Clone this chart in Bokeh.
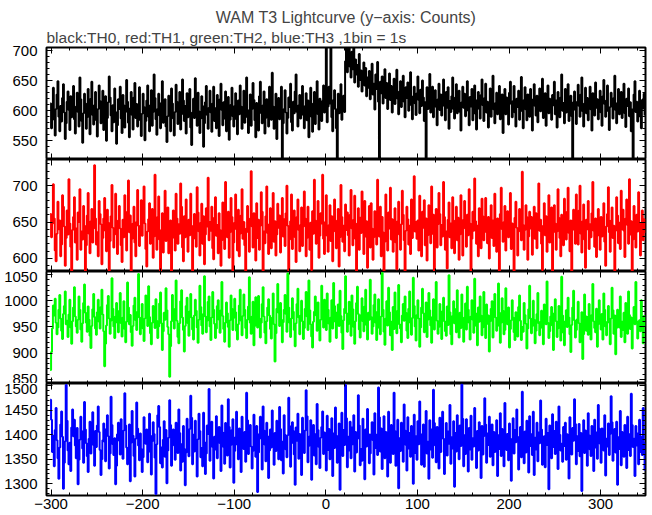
from bokeh.plotting import figure
from bokeh.layouts import column
from bokeh.models import LinearAxis, Range1d, FixedTicker, Title
from bokeh.embed import file_html
from bokeh.resources import INLINE

T_START = -301  # first 1-s bin

title_text = "WAM T3 Lightcurve (y\u2212axis: Counts)"
subtitle_text = "black:TH0, red:TH1, green:TH2, blue:TH3 ,1bin = 1s"

x_major = [-300, -200, -100, 0, 100, 200, 300]
x_minor = list(range(-300, 350, 20))
x_labels = {-300: "\u2212300", -200: "\u2212200", -100: "\u2212100"}

th0 = [
612, 571, 596, 638, 585, 559, 603, 627, 649, 590, 566, 608, 582, 621, 644, 597, 553, 579, 615, 632, 601, 568, 624, 589, 610,
641, 586, 562, 607, 630, 598, 574, 655, 619, 583, 547, 596, 628, 612, 570, 589, 636, 605, 561, 620, 648, 593, 577, 609, 631,
584, 557, 603, 642, 616, 579, 595, 633, 568, 601, 624, 550, 588, 614, 657, 622, 592, 566, 609, 581, 637, 598, 545, 576, 619,
603, 640, 587, 563, 626, 609, 572, 598, 651, 615, 580, 556, 604, 631, 593, 569, 622, 646, 588, 611, 574, 600, 639, 584, 558,
595, 628, 606, 551, 583, 617, 642, 590, 566, 609, 634, 575, 598, 660, 621, 586, 560, 603, 628, 592, 571, 613, 649, 580, 602,
619, 574, 548, 591, 625, 603, 566, 637, 612, 587, 559, 598, 643, 615, 578, 606, 631, 569, 594, 652, 617, 583, 608, 562, 629,
589, 611, 636, 572, 543, 597, 620, 588, 654, 606, 575, 630, 599, 563, 587, 624, 608, 540, 579, 614, 641, 593, 570, 605, 633,
597, 565, 612, 640, 583, 604, 571, 626, 593, 558, 619, 645, 601, 576, 614, 587, 632, 566, 599, 623, 552, 585, 610, 638, 591,
574, 608, 629, 586, 561, 617, 594, 642, 607, 570, 596, 633, 580, 612, 655, 589, 563, 601, 627, 575, 603, 646, 618, 584, 556,
613, 590, 567, 624, 648, 596, 579, 609, 632, 562, 588, 619, 601, 574, 640, 611, 585, 663, 607, 570, 594, 628, 553, 599, 621,
586, 612, 640, 515, 579, 603, 634, 597, 562, 588, 622, 606, 645, 581, 567, 615, 596, 632, 660, 598, 574, 609, 626, 587, 613,
641, 593, 571, 608, 629, 584, 617, 556, 600, 638, 590, 565, 612, 631, 578, 603, 649, 594, 569, 620, 605, 583, 616, 642, 597,
622, 705, 581, 607, 640, 612, 710, 589, 566, 618, 634, 603, 571, 520, 628, 596, 612, 644, 585, 607, 625, 598,
682, 706, 664, 691, 712, 673, 655, 698, 669, 708, 647, 685, 660, 676, 640, 694, 651, 667, 632, 659, 680, 642, 671, 624, 655,
638, 666, 619, 652, 678, 627, 645, 602, 660, 636, 681, 615, 522, 648, 629, 657, 612, 640, 669, 621, 646, 603, 633, 662, 618,
641, 597, 625, 653, 611, 637, 668, 620, 594, 632, 649, 606, 627, 658, 615, 589, 639, 621, 647, 600, 631, 664, 609, 586, 624,
640, 612, 593, 629, 657, 618, 596, 635, 608, 650, 622, 583, 614, 522, 639, 603, 628, 661, 597, 617, 640, 589, 611, 634, 606,
576, 619, 645, 601, 627, 592, 613, 652, 608, 584, 631, 605, 639, 570, 616, 598, 624, 655, 603, 587, 622, 644, 596, 611, 633,
598, 567, 614, 640, 605, 628, 591, 617, 649, 600, 576, 623, 607, 636, 584, 611, 642, 595, 569, 618, 631, 603, 587, 626, 652,
609, 583, 621, 645, 597, 615, 572, 606, 637, 590, 624, 658, 602, 579, 613, 630, 594, 619, 641, 586, 605, 627, 563, 610, 636,
594, 622, 603, 577, 630, 648, 611, 589, 616, 641, 597, 574, 620, 606, 633, 585, 612, 656, 599, 571, 618, 639, 602, 584, 627,
613, 590, 636, 602, 567, 619, 644, 608, 592, 625, 581, 610, 637, 599, 616, 653, 588, 604, 629, 575, 611, 642, 596, 620, 603,
585, 626, 609, 648, 594, 617, 572, 631, 605, 589, 622, 660, 600, 613, 579, 636, 597, 618, 644, 583, 607, 625, 591, 518, 614,
632, 601, 578, 615, 643, 608, 590, 627, 655, 599, 574, 612, 638, 596, 621, 584, 609, 640, 602, 567, 629, 613, 592, 647, 605,
619, 586, 608, 633, 597, 575, 624, 651, 611, 590, 617, 642, 599, 568, 606, 630, 615, 587, 621, 658, 601, 579, 613, 636, 594,
607, 631, 588, 612, 645, 596, 573, 620, 608, 637, 591, 614, 566, 602, 520, 627, 649, 598, 615, 582, 609, 633, 590, 571, 618, 604, 628, 592,
]

th1 = [
661, 629, 648, 702, 655, 611, 596, 634, 678, 640, 652, 603, 619, 687, 671, 644, 590, 628, 666, 633, 709, 648, 616, 575, 639,
657, 684, 622, 641, 598, 663, 650, 695, 612, 637, 626, 672, 645, 583, 618, 659, 690, 634, 607, 651, 668, 622, 641, 728, 655,
619, 636, 603, 679, 661, 647, 592, 628, 655, 683, 638, 610, 667, 649, 575, 624, 658, 701, 642, 615, 633, 689, 652, 606, 645,
672, 641, 618, 595, 653, 629, 687, 664, 611, 640, 707, 636, 659, 582, 627, 648, 671, 622, 603, 650, 694, 645, 617, 634, 680,
631, 660, 699, 648, 613, 589, 637, 654, 676, 620, 643, 668, 601, 630, 715, 649, 612, 657, 685, 626, 574, 639, 662, 608, 651,
693, 624, 645, 670, 607, 638, 652, 581, 628, 666, 642, 611, 689, 655, 620, 647, 634, 703, 671, 615, 596, 658, 629, 681, 640,
609, 653, 632, 689, 645, 572, 627, 661, 640, 616, 698, 663, 637, 604, 649, 675, 620, 658, 592, 633, 669, 644, 711, 625, 650,
638, 671, 614, 599, 656, 684, 631, 646, 607, 662, 639, 590, 625, 677, 652, 613, 705, 648, 629, 664, 601, 636, 683, 657, 578,
622, 649, 688, 640, 611, 667, 603, 634, 659, 695, 627, 650, 618, 583, 641, 672, 636, 609, 655, 720, 644, 615, 662, 631, 597,
676, 628, 653, 612, 645, 691, 664, 580, 637, 621, 658, 699, 635, 606, 647, 669, 614, 641, 690, 623, 651, 604, 633, 675, 642,
659, 608, 641, 683, 630, 654, 617, 662, 700, 645, 573, 626, 651, 688, 613, 640, 666, 629, 595, 657, 681, 639, 610, 646, 670,
617, 644, 692, 655, 603, 628, 671, 639, 612, 649, 584, 665, 634, 708, 652, 620, 643, 679, 601, 631, 662, 648, 715, 627, 606,
650, 687, 631, 609, 646, 673, 624, 658, 596, 637, 681, 652, 614, 640, 668, 589, 629, 701, 657, 623, 645, 610, 674, 639, 663,
632, 604, 660, 694, 641, 618, 653, 686, 627, 577, 648, 669, 612, 656, 635, 692, 645, 606, 679, 630, 651, 587, 638, 672, 615,
676, 641, 598, 629, 665, 652, 619, 708, 644, 630, 671, 603, 657, 636, 582, 623, 688, 649, 611, 663, 641, 697, 626, 654, 609,
644, 669, 622, 585, 651, 678, 633, 612, 647, 693, 660, 625, 574, 638, 671, 654, 619, 645, 606, 681, 628, 659, 713, 637, 650,
627, 652, 611, 686, 639, 603, 664, 642, 680, 618, 655, 597, 632, 673, 646, 621, 699, 634, 660, 583, 641, 668, 615, 647, 690,
661, 618, 646, 630, 705, 657, 612, 637, 586, 653, 677, 629, 648, 614, 684, 652, 607, 640, 671, 625, 656, 598, 633, 687, 642,
604, 653, 679, 641, 616, 660, 632, 695, 648, 579, 627, 664, 638, 710, 651, 620, 645, 603, 669, 636, 614, 682, 658, 625, 647,
683, 636, 621, 657, 600, 644, 673, 628, 652, 617, 689, 641, 609, 655, 632, 576, 661, 697, 640, 623, 650, 672, 611, 638, 665,
629, 662, 690, 613, 648, 633, 581, 656, 678, 642, 604, 637, 668, 651, 625, 719, 646, 612, 639, 673, 657, 598, 630, 664, 641,
657, 605, 640, 671, 627, 662, 614, 649, 703, 638, 653, 620, 584, 645, 676, 632, 658, 609, 641, 687, 622, 650, 670, 579, 636,
673, 648, 612, 637, 695, 656, 628, 603, 660, 641, 618, 682, 649, 626, 664, 697, 635, 610, 652, 574, 639, 667, 643, 620, 688,
641, 619, 666, 700, 634, 608, 651, 674, 626, 587, 653, 640, 679, 613, 647, 629, 662, 705, 638, 616, 655, 602, 631, 668, 645,
612, 657, 630, 648, 676, 623, 590, 644, 661, 698, 636, 609, 652, 670, 628, 645, 583, 638, 684, 659, 621, 649, 613, 693, 640,
667, 638, 602, 655, 681, 646, 620, 709, 633, 651, 578, 626, 672, 640, 615, 660, 637, 691, 648, 604, 643, 666, 625, 654, 635,
]

th2 = [
868, 902, 947, 991, 972, 1004, 958, 936, 949, 983, 1011, 966, 943, 927, 975, 990, 1018, 955, 962, 931, 974, 1002, 949, 918, 961,
987, 1026, 970, 951, 939, 964, 1008, 983, 945, 922, 957, 996, 1031, 977, 958, 941, 989, 964, 933, 910, 952, 984, 1013, 969, 947,
935, 978, 1002, 960, 947, 988, 1021, 974, 942, 875, 918, 953, 992, 1009, 966, 937, 962, 1043, 985, 951, 929, 970, 996, 958, 940,
981, 1015, 957, 932, 968, 999, 946, 921, 960, 1035, 987, 955, 973, 940, 914, 952, 991, 1006, 963, 944, 979, 1051, 968, 936, 957,
994, 947, 923, 966, 1010, 981, 952, 1028, 969, 938, 917, 958, 990, 973, 948, 1003, 962, 929, 951, 995, 1016, 957, 906, 942, 977,
964, 1024, 982, 950, 936, 855, 913, 961, 1011, 976, 947, 985, 1039, 962, 931, 919, 957, 999, 1020, 968, 944, 903, 952, 990, 1006,
957, 933, 980, 1013, 968, 945, 926, 972, 1002, 981, 949, 920, 964, 1029, 988, 953, 937, 975, 1047, 970, 940, 962, 998, 1008, 951,
925, 968, 1017, 983, 956, 929, 947, 990, 1001, 964, 939, 982, 1036, 971, 946, 922, 958, 997, 976, 950, 912, 963, 1010, 985, 944,
967, 1004, 978, 943, 926, 955, 991, 1021, 962, 934, 971, 1012, 983, 948, 929, 964, 989, 1045, 958, 937, 970, 998, 915, 952, 1007,
981, 949, 1009, 966, 930, 958, 994, 1026, 970, 939, 919, 961, 987, 1003, 972, 946, 928, 968, 1014, 955, 884, 938, 985, 1032, 977,
952, 996, 964, 921, 959, 983, 1011, 975, 941, 1052, 987, 958, 931, 966, 1005, 979, 944, 913, 957, 994, 1023, 968, 936, 972, 1000,
961, 927, 948, 985, 1017, 970, 944, 1039, 982, 955, 932, 911, 960, 979, 1008, 972, 943, 997, 958, 924, 964, 1029, 980, 949, 1002,
975, 944, 1014, 983, 956, 922, 968, 1001, 947, 1034, 990, 960, 929, 978, 993, 952, 1019, 971, 939, 908, 963, 985, 1047, 976, 941,
955, 998, 967, 933, 1010, 984, 950, 918, 961, 996, 1027, 975, 945, 930, 973, 1005, 961, 942, 989, 1021, 954, 926, 977, 964, 1040,
969, 937, 951, 992, 1012, 958, 925, 979, 1003, 948, 936, 970, 1053, 983, 941, 916, 966, 999, 953, 1025, 978, 934, 960, 906, 988,
946, 1016, 963, 938, 981, 1030, 955, 947, 921, 972, 994, 962, 1008, 977, 943, 929, 985, 1018, 958, 935, 967, 1044, 990, 951, 924,
973, 1001, 966, 912, 949, 987, 1023, 976, 940, 958, 997, 931, 964, 1015, 982, 953, 920, 969, 1003, 945, 982, 1036, 962, 937, 950,
994, 959, 927, 980, 1006, 961, 942, 933, 989, 954, 1049, 978, 936, 917, 971, 999, 957, 984, 940, 1020, 963, 930, 977, 948, 1012,
951, 922, 968, 995, 945, 1027, 983, 958, 926, 970, 1001, 964, 939, 1042, 976, 952, 915, 987, 960, 1008, 972, 934, 949, 1017, 981,
929, 993, 956, 972, 903, 961, 985, 999, 930, 974, 1013, 968, 943, 952, 1033, 977, 920, 958, 1005, 981, 936, 944, 1024, 970, 955,
987, 911, 946, 963, 1001, 968, 940, 925, 978, 947, 932, 988, 1010, 962, 925, 950, 941, 996, 973, 956, 909, 947, 984, 1029, 966,
938, 952, 1000, 964, 919, 943, 975, 1015, 957, 934, 960, 981, 948, 917, 993, 970, 955, 1037, 958, 929, 942, 970, 988, 953, 906,
976, 1003, 961, 931, 947, 990, 965, 924, 1046, 972, 939, 915, 961, 982, 950, 1006, 968, 936, 902, 954, 987, 1019, 963, 930, 944,
965, 998, 957, 921, 948, 978, 889, 936, 1012, 971, 943, 969, 935, 994, 957, 926, 973, 1032, 961, 948, 940, 985, 912, 955, 1001,
967, 945, 975, 926, 1014, 983, 951, 934, 960, 990, 958, 917, 966, 1025, 982, 937, 972, 898, 948, 983, 960, 949, 1008, 931, 960,
944, 977, 921, 996, 954, 937, 1018, 973, 946, 968, 909, 958, 988, 955, 1036, 961, 928, 945, 963, 942, 1001, 958, 919, 971, 950,
]

th3 = [
1472, 1431, 1365, 1398, 1336, 1410, 1455, 1389, 1352, 1310, 1374, 1421, 1448, 1396, 1290, 1343, 1387, 1502, 1429, 1368, 1340, 1384, 1326, 1415, 1452,
1397, 1431, 1378, 1352, 1414, 1299, 1349, 1390, 1437, 1408, 1372, 1343, 1467, 1411, 1383, 1356, 1324, 1392, 1427, 1362, 1401, 1446, 1379, 1337, 1408,
1375, 1419, 1458, 1406, 1369, 1318, 1350, 1389, 1423, 1386, 1346, 1412, 1440, 1397, 1331, 1362, 1478, 1420, 1381, 1359, 1393, 1299, 1337, 1401, 1425,
1388, 1360, 1432, 1396, 1351, 1409, 1485, 1419, 1374, 1340, 1363, 1421, 1305, 1384, 1449, 1398, 1357, 1315, 1392, 1466, 1413, 1378, 1348, 1403, 1371,
1324, 1354, 1436, 1393, 1382, 1411, 1344, 1365, 1443, 1398, 1319, 1387, 1426, 1402, 1353, 1279, 1381, 1440, 1459, 1416, 1342, 1374, 1333, 1390, 1428,
1355, 1410, 1301, 1368, 1394, 1471, 1420, 1337, 1378, 1411, 1386, 1349, 1425, 1396, 1363, 1452, 1404, 1327, 1381, 1345, 1418, 1371, 1297, 1364, 1433,
1389, 1356, 1412, 1480, 1435, 1340, 1400, 1366, 1429, 1384, 1315, 1391, 1443, 1408, 1354, 1373, 1336, 1445, 1385, 1320, 1362, 1419, 1402, 1494, 1347,
1388, 1427, 1375, 1311, 1396, 1370, 1438, 1352, 1389, 1416, 1383, 1326, 1460, 1405, 1375, 1341, 1424, 1390, 1358, 1473, 1416, 1333, 1379, 1410, 1432,
1302, 1367, 1395, 1447, 1380, 1350, 1413, 1387, 1324, 1437, 1399, 1371, 1406, 1345, 1486, 1430, 1361, 1399, 1420, 1376, 1331, 1367, 1441, 1393, 1355,
1418, 1283, 1364, 1402, 1437, 1392, 1329, 1458, 1409, 1380, 1346, 1425, 1397, 1312, 1368, 1411, 1374, 1450, 1388, 1339, 1404, 1367, 1429, 1395, 1350,
1457, 1412, 1348, 1386, 1321, 1440, 1400, 1370, 1354, 1399, 1476, 1418, 1335, 1383, 1426, 1408, 1360, 1298, 1415, 1388, 1443, 1351, 1402, 1372, 1318,
1435, 1391, 1363, 1409, 1491, 1438, 1344, 1377, 1397, 1430, 1308, 1384, 1420, 1358, 1401, 1340, 1463, 1410, 1375, 1332, 1394, 1416, 1448, 1361, 1405,
1382, 1327, 1439, 1369, 1412, 1350, 1387, 1434, 1316, 1403, 1373, 1456, 1398, 1343, 1365, 1423, 1288, 1390, 1445, 1357, 1410, 1379, 1502, 1434, 1334,
1396, 1368, 1427, 1352, 1415, 1381, 1440, 1325, 1406, 1364, 1392, 1481, 1419, 1338, 1371, 1347, 1433, 1385, 1309, 1411, 1376, 1453, 1402, 1342, 1362,
1401, 1426, 1389, 1319, 1444, 1373, 1400, 1359, 1497, 1436, 1366, 1413, 1330, 1389, 1438, 1352, 1406, 1378, 1315, 1447, 1383, 1343, 1420, 1395, 1361,
1486, 1408, 1337, 1374, 1431, 1291, 1393, 1367, 1425, 1387, 1345, 1462, 1409, 1379, 1327, 1436, 1372, 1404, 1355, 1418, 1384, 1300, 1441, 1363, 1397,
1349, 1428, 1381, 1468, 1402, 1339, 1376, 1421, 1335, 1398, 1449, 1362, 1386, 1310, 1430, 1370, 1411, 1353, 1492, 1424, 1378, 1344, 1416, 1389, 1331,
1435, 1365, 1400, 1447, 1392, 1320, 1374, 1424, 1358, 1407, 1382, 1461, 1341, 1395, 1372, 1428, 1294, 1404, 1366, 1440, 1383, 1350, 1419, 1377, 1503,
1433, 1336, 1399, 1361, 1432, 1387, 1325, 1414, 1370, 1439, 1349, 1393, 1376, 1455, 1401, 1332, 1408, 1368, 1426, 1385, 1312, 1418, 1360, 1397, 1475,
1421, 1343, 1403, 1379, 1437, 1355, 1390, 1421, 1338, 1406, 1365, 1384, 1430, 1316, 1399, 1371, 1444, 1357, 1412, 1381, 1336, 1465, 1402, 1369, 1402,
1348, 1423, 1375, 1306, 1392, 1434, 1362, 1410, 1385, 1452, 1396, 1329, 1373, 1416, 1354, 1488, 1380, 1342, 1407, 1364, 1429, 1391, 1323, 1438, 1377,
1401, 1359, 1447, 1318, 1394, 1370, 1425, 1346, 1405, 1383, 1470, 1411, 1339, 1366, 1397, 1334, 1433, 1379, 1404, 1289, 1419, 1386, 1352, 1442, 1375,
1408, 1361, 1427, 1393, 1330, 1458, 1400, 1368, 1382, 1345, 1416, 1377, 1425, 1349, 1401, 1372, 1311, 1436, 1384, 1360, 1414, 1388, 1473, 1422, 1340,
1397, 1367, 1422, 1356, 1404, 1285, 1391, 1430, 1363, 1409, 1378, 1337, 1444, 1399, 1370, 1357, 1418, 1386, 1326, 1431, 1374, 1405, 1351, 1461, 1413,
1382, 1343, 1413, 1396, 1368, 1440, 1317, 1392, 1376, 1423, 1359, 1402, 1479, 1426, 1347, 1389, 1412, 1364, 1427, 1298, 1395, 1371, 1449, 1338, 1406,
1380, 1355, 1420, 1387, 1332, 1437, 1369, 1401, 1357, 1484, 1420, 1375, 1392, 1316, 1418, 1378, 1403, 1340, 1431, 1365, 1396, 1359, 1455, 1384, 1327,
]

panels = [
    dict(y=th0, color="#000000", yr=(519, 705), major=[550, 600, 650, 700]),
    dict(y=th1, color="#ff0000", yr=(582, 736), major=[600, 650, 700]),
    dict(y=th2, color="#00ff00", yr=(842, 1056), major=[850, 900, 950, 1000, 1050]),
    dict(y=th3, color="#0000ff", yr=(1276, 1505), major=[1300, 1350, 1400, 1450, 1500]),
]

FONT = "Liberation Sans"
x_range = Range1d(-305, 349)


def tick_only_axes(p, side, positions, length):
    # an axis with no labels: its ticks are drawn as "minor" ticks only
    ax = LinearAxis(ticker=FixedTicker(ticks=[], minor_ticks=positions))
    ax.axis_line_color = None
    ax.major_tick_in = 0
    ax.major_tick_out = 0
    ax.minor_tick_in = length
    ax.minor_tick_out = 0
    ax.minor_tick_line_color = "black"
    ax.minor_tick_line_width = 1
    p.add_layout(ax, side)


def labelled_axis(p, side, major, minor, overrides=None):
    ax = LinearAxis(ticker=FixedTicker(ticks=major, minor_ticks=minor))
    ax.axis_line_color = None
    ax.major_tick_in = 6
    ax.major_tick_out = 0
    ax.minor_tick_in = 3
    ax.minor_tick_out = 0
    ax.major_tick_line_color = "black"
    ax.minor_tick_line_color = "black"
    ax.major_label_text_font = FONT
    ax.major_label_text_font_size = "15px"
    ax.major_label_text_color = "black"
    ax.major_label_standoff = 9 if side == "left" else 3
    if overrides:
        ax.major_label_overrides = overrides
    p.add_layout(ax, side)


figs = []
n = len(panels)
for i, pd_ in enumerate(panels):
    top = i == 0
    bottom = i == n - 1
    p = figure(
        frame_width=599, frame_height=112,
        x_range=x_range, y_range=Range1d(*pd_["yr"]),
        output_backend="svg", toolbar_location=None,
        x_axis_location=None, y_axis_location=None,
        min_border_left=46, min_border_right=6,
        min_border_top=47 if top else 0,
        min_border_bottom=19 if bottom else 0,
        background_fill_color="white", border_fill_color="white",
    )
    p.outline_line_color = "black"
    p.outline_line_width = 2
    p.grid.visible = False
    ys = pd_["y"]
    xs = [T_START + k for k in range(len(ys))]
    p.step(xs, ys, mode="after", line_color=pd_["color"], line_width=2)

    lo, hi = pd_["yr"]
    y_minor = [v for v in range(int(lo) // 10 * 10, int(hi) + 10, 10) if lo <= v <= hi]
    labelled_axis(p, "left", pd_["major"], y_minor)
    tick_only_axes(p, "right", pd_["major"], 6)
    tick_only_axes(p, "right", y_minor, 3)
    tick_only_axes(p, "above", x_major, 6)
    tick_only_axes(p, "above", x_minor, 3)
    if bottom:
        labelled_axis(p, "below", x_major, x_minor, x_labels)
    else:
        tick_only_axes(p, "below", x_major, 6)
        tick_only_axes(p, "below", x_minor, 3)

    if top:
        p.title.text = title_text
        p.title.align = "center"
        p.title.offset = 6
        p.title.text_font = FONT
        p.title.text_font_size = "16px"
        p.title.text_font_style = "normal"
        p.title.standoff = 0
        sub = Title(text=subtitle_text, align="left", text_font=FONT,
                    text_font_size="15.5px", text_font_style="normal", standoff=3)
        p.add_layout(sub, "above")
    figs.append(p)

layout = column(*figs, spacing=0)
open("out.html", "w").write(file_html(layout, INLINE))
